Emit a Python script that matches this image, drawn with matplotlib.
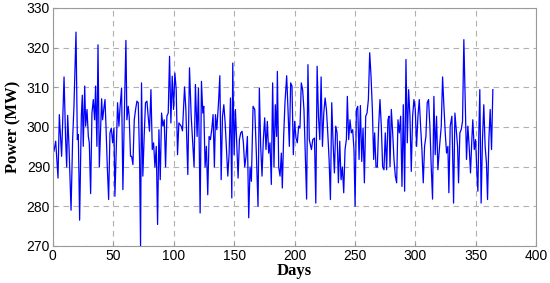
import matplotlib
matplotlib.use("Agg")
import matplotlib.pyplot as plt

# daily power readings (days, MW)
days = [1.0, 2.4, 4.3, 5.4, 7.3, 9.3, 10.6, 11.5, 12.3, 13.4, 15.1, 16.4, 17.5, 19.2, 20.3,
        21.1, 22.2, 23.6, 24.4, 25.2, 26.4, 27.2, 28.3, 29.4, 30.2, 31.3, 32.4, 33.5, 34.6,
        35.4, 36.5, 37.4, 38.5, 39.6, 40.4, 41.2, 42.3, 43.2, 44.0, 45.1, 46.2, 47.3, 48.4,
        49.5, 50.6,
        51.4, 53.6, 54.7, 55.5, 56.9, 58.0, 59.1, 60.5, 61.3, 62.4, 63.2, 64.3, 65.2, 66.3,
        67.4, 68.5, 69.6, 70.7, 71.8, 72.6, 73.4, 74.5, 75.6, 76.7, 77.9, 78.9, 80.0, 81.2,
        82.3, 83.4, 84.5, 85.6, 86.7, 87.8, 88.9, 90.0, 91.1, 92.2, 93.3, 94.4, 95.5, 96.6,
        97.7, 98.8, 99.9, 101.0, 102.1, 103.2, 104.3,
        106.2, 107.3, 109.0, 110.1, 111.7, 113.1, 114.5, 115.6, 116.9, 118.0, 119.4, 120.5,
        121.9, 123.0, 124.1, 124.9, 126.0, 127.1, 128.2, 129.3, 130.4, 131.5, 132.6, 133.7,
        134.6, 135.7, 137.1, 138.2, 139.3, 140.4, 141.5, 142.6, 143.7, 144.8, 145.9, 147.0,
        148.1, 148.9, 150.0, 151.1, 152.2, 153.3, 154.4, 155.5, 156.6, 157.7, 158.8, 159.9,
        161.0, 162.1,
        163.2, 164.3, 165.7, 167.1, 168.4, 169.8, 170.9, 172.0, 173.1, 174.2, 175.3, 176.4,
        177.5, 178.6, 179.7, 180.8, 181.9, 183.0, 184.1, 185.2, 185.8, 186.9, 188.0, 189.1,
        189.9, 191.0, 192.1, 193.5, 194.6, 195.7, 196.8, 197.9, 199.0, 200.1, 201.2, 202.3,
        203.4, 204.5, 205.6, 206.7, 207.8, 208.9, 210.0, 211.1, 212.2,
        214.0, 215.1, 216.5, 217.6, 218.7, 219.8, 220.9, 222.0, 223.1, 224.2, 225.3, 226.4,
        227.5, 228.6, 229.7, 230.8, 231.9, 233.0, 234.1, 235.2, 236.3, 237.4, 238.5, 239.6,
        240.7, 241.8, 242.9, 243.7, 244.8, 245.9, 247.0, 248.1, 249.2, 250.1, 251.2, 252.3,
        253.4, 254.5, 255.6, 256.7, 257.8, 258.9, 260.0, 261.1, 262.2, 263.3, 264.4, 265.5,
        266.3, 267.4, 268.5, 269.6, 270.7, 271.8, 272.9, 274.0, 275.1, 276.2, 277.3, 278.2,
        279.0, 280.1, 281.2, 282.3, 283.4, 284.5, 285.6, 286.7, 287.8, 288.9, 290.0, 291.1,
        292.2, 293.3, 294.4, 295.5, 296.6, 297.7, 298.8, 299.9, 301.0, 302.1, 303.2, 304.3,
        305.4, 306.5, 307.6, 308.7, 309.8, 310.9, 312.0, 313.1, 314.2, 315.3, 316.4, 317.5,
        318.6,
        320.0, 321.4, 322.5, 323.6, 324.7, 325.8, 326.9, 327.7, 328.8, 330.2, 331.6, 332.7,
        333.8, 334.9, 335.7, 336.8, 337.9, 339.0, 340.1, 341.2, 342.3, 343.4, 344.5, 345.6,
        346.7, 347.5, 348.7, 349.8, 350.9, 351.7, 352.5, 353.3, 354.4, 355.5, 356.6, 357.7,
        358.8, 359.7, 360.8, 361.9, 363.0, 364.1]

power = [293.9, 296.4, 287.1, 303.1, 292.6, 312.6, 296.8, 289.9, 302.9, 295.1, 279.0, 296.8,
         305.2, 323.9, 296.8, 298.1, 276.5, 302.7, 308.0, 295.1, 310.3, 300.2, 304.4, 297.6,
         296.0, 283.2, 303.5, 306.9, 301.8, 310.3, 295.1, 320.7, 289.9, 300.2, 307.1, 301.8,
         304.8, 306.9, 300.2, 289.9, 281.7, 298.5, 299.7, 296.0, 299.7,
         282.5, 306.1, 300.2, 304.4, 309.8, 284.2, 301.8, 321.8, 301.8, 305.2, 302.7, 292.6,
         292.6, 290.5, 301.8, 304.4, 306.5, 306.1, 291.8, 269.9, 311.1, 287.6, 297.6, 306.1,
         306.5, 302.7, 298.9, 309.4, 294.3, 296.0, 289.9, 295.1, 275.4, 299.3, 286.7, 303.5,
         300.2, 301.8, 289.9, 302.7, 303.5, 317.8, 301.0, 312.8, 304.4, 313.6, 309.4, 293.0,
         301.0,
         300.2, 299.0, 310.1, 304.4, 288.0, 314.9, 302.7, 296.8, 289.9, 310.7, 297.6, 309.8,
         278.3, 311.5, 303.5, 305.2, 289.9, 295.1, 282.9, 297.6, 296.8, 299.3, 303.1, 289.9,
         303.1, 299.3, 306.1, 312.9, 286.7, 302.7, 305.6, 301.0, 294.3, 287.6, 293.4, 307.3,
         282.1, 316.1, 293.0, 304.4, 296.0, 287.1, 296.8, 298.5, 298.9, 296.0, 289.9, 292.6,
         297.6, 277.1,
         289.9, 286.3, 305.2, 304.4, 293.4, 280.0, 309.8, 295.1, 287.6, 296.8, 302.3, 294.3,
         301.4, 293.4, 296.0, 285.5, 311.1, 289.9, 305.6, 297.6, 314.0, 289.9, 287.6, 293.4,
         284.6, 297.6, 306.1, 312.9, 304.4, 295.1, 311.1, 310.3, 293.0, 301.4, 297.2, 296.0,
         300.2, 299.7, 311.1, 309.4, 304.4, 293.4, 281.8, 315.7, 296.8,
         294.3, 296.8, 297.2, 280.8, 315.3, 302.7, 296.8, 312.6, 295.1, 303.5, 307.3, 304.4,
         298.5, 291.8, 281.7, 306.1, 296.0, 288.4, 300.2, 298.5, 285.9, 296.4, 286.7, 289.9,
         283.4, 294.3, 296.8, 307.7, 296.8, 301.8, 298.5, 299.3, 294.3, 280.0, 304.4, 305.2,
         291.8, 305.4, 291.3, 299.7, 285.9, 302.7, 303.5, 306.9, 318.7, 312.8, 304.4, 291.8,
         298.5, 289.9, 289.9, 300.2, 306.9, 300.2, 289.9, 289.2, 298.5, 289.2, 301.8, 302.7,
         289.9, 304.4, 298.5, 291.8, 287.6, 285.9, 301.8, 298.5, 302.7, 285.0, 305.6, 283.8,
         317.0, 296.0, 309.4, 302.7, 288.8, 302.7, 306.9, 304.4, 295.1, 302.7, 306.9, 300.2,
         294.3, 285.9, 295.1, 297.6, 306.1, 306.9, 300.2, 289.9, 281.8, 307.7, 293.0, 302.7,
         289.2,
         295.1, 300.2, 312.6, 305.2, 298.5, 293.4, 295.1, 283.4, 300.2, 302.7, 280.8, 303.5,
         299.3, 295.1, 285.9, 298.5, 299.3, 301.4, 322.0, 306.9, 291.8, 300.2, 295.1, 288.4,
         296.8, 301.8, 294.3, 296.8, 288.4, 283.8, 298.5, 309.4, 280.8, 296.8, 305.6, 295.1,
         290.9, 281.7, 296.8, 304.4, 294.3, 309.4]

xticks = [0, 50, 100, 150, 200, 250, 300, 350, 400]
yticks = [270, 280, 290, 300, 310, 320, 330]

fig = plt.figure(figsize=(5.5, 2.83), dpi=100)
ax = fig.add_axes([0.096, 0.131, 0.879, 0.841])

ax.plot(days, power, color="#0000ff", linewidth=0.9)

ax.set_xlim(0, 400)
ax.set_ylim(270, 330)
ax.set_xticks(xticks)
ax.set_yticks(yticks)

ax.grid(True, color="#b0b0b0", linestyle=(0, (5, 4)), linewidth=0.8)
for s in ax.spines.values():
    s.set_color("#9a9a9a")
    s.set_linewidth(0.8)
ax.tick_params(direction="in", length=3, color="#9a9a9a", labelsize=10, pad=2)
for lab in ax.get_xticklabels() + ax.get_yticklabels():
    lab.set_family("Liberation Sans")

ax.set_xlabel("Days", fontfamily="Liberation Serif", fontweight="bold", fontsize=12, labelpad=0)
ax.set_ylabel("Power (MW)", fontfamily="Liberation Serif", fontweight="bold", fontsize=12, labelpad=4)

fig.savefig("out.png", dpi=100)
